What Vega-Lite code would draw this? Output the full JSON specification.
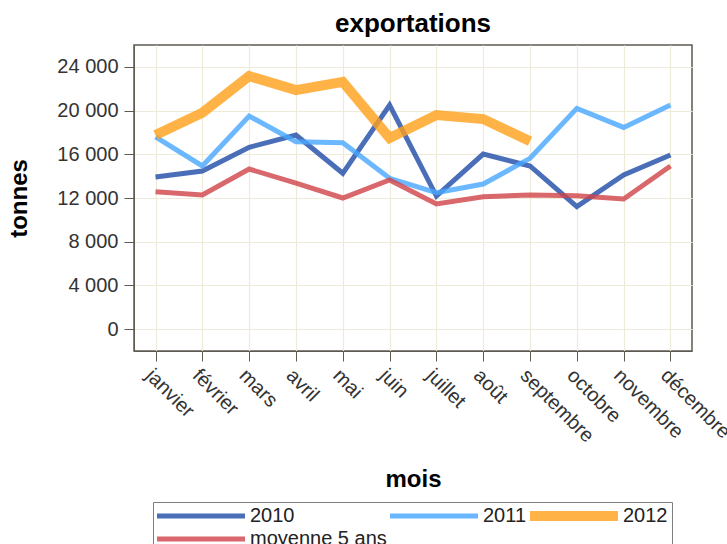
{
  "$schema": "https://vega.github.io/schema/vega-lite/v6.json",
  "width": 558,
  "height": 306,
  "autosize": {"type": "none"},
  "padding": {"left": 134, "top": 45, "right": 35, "bottom": 193},
  "background": "white",
  "title": {"text": "exportations", "fontSize": 26, "font": "Liberation Sans", "fontWeight": "bold", "color": "#000000", "anchor": "middle", "frame": "group", "offset": 8},
  "config": {
    "view": {"stroke": "#5e5a52", "strokeWidth": 1.5},
    "font": "Liberation Sans"
  },
  "data": {"values": [
    {"mois": "janvier", "serie": "2010", "valeur": 13920},
    {"mois": "février", "serie": "2010", "valeur": 14470},
    {"mois": "mars", "serie": "2010", "valeur": 16640},
    {"mois": "avril", "serie": "2010", "valeur": 17760},
    {"mois": "mai", "serie": "2010", "valeur": 14260},
    {"mois": "juin", "serie": "2010", "valeur": 20500},
    {"mois": "juillet", "serie": "2010", "valeur": 12180},
    {"mois": "août", "serie": "2010", "valeur": 16020},
    {"mois": "septembre", "serie": "2010", "valeur": 14930},
    {"mois": "octobre", "serie": "2010", "valeur": 11210},
    {"mois": "novembre", "serie": "2010", "valeur": 14100},
    {"mois": "décembre", "serie": "2010", "valeur": 15930},
    {"mois": "janvier", "serie": "2011", "valeur": 17600},
    {"mois": "février", "serie": "2011", "valeur": 14930},
    {"mois": "mars", "serie": "2011", "valeur": 19500},
    {"mois": "avril", "serie": "2011", "valeur": 17150},
    {"mois": "mai", "serie": "2011", "valeur": 17060},
    {"mois": "juin", "serie": "2011", "valeur": 13800},
    {"mois": "juillet", "serie": "2011", "valeur": 12490},
    {"mois": "août", "serie": "2011", "valeur": 13280},
    {"mois": "septembre", "serie": "2011", "valeur": 15630},
    {"mois": "octobre", "serie": "2011", "valeur": 20200},
    {"mois": "novembre", "serie": "2011", "valeur": 18460},
    {"mois": "décembre", "serie": "2011", "valeur": 20500},
    {"mois": "janvier", "serie": "2012", "valeur": 17760},
    {"mois": "février", "serie": "2012", "valeur": 19800},
    {"mois": "mars", "serie": "2012", "valeur": 23150},
    {"mois": "avril", "serie": "2012", "valeur": 21870},
    {"mois": "mai", "serie": "2012", "valeur": 22630},
    {"mois": "juin", "serie": "2012", "valeur": 17490},
    {"mois": "juillet", "serie": "2012", "valeur": 19590},
    {"mois": "août", "serie": "2012", "valeur": 19220},
    {"mois": "septembre", "serie": "2012", "valeur": 17200},
    {"mois": "janvier", "serie": "moyenne 5 ans", "valeur": 12580},
    {"mois": "février", "serie": "moyenne 5 ans", "valeur": 12280},
    {"mois": "mars", "serie": "moyenne 5 ans", "valeur": 14650},
    {"mois": "avril", "serie": "moyenne 5 ans", "valeur": 13370},
    {"mois": "mai", "serie": "moyenne 5 ans", "valeur": 12000},
    {"mois": "juin", "serie": "moyenne 5 ans", "valeur": 13650},
    {"mois": "juillet", "serie": "moyenne 5 ans", "valeur": 11450},
    {"mois": "août", "serie": "moyenne 5 ans", "valeur": 12120},
    {"mois": "septembre", "serie": "moyenne 5 ans", "valeur": 12280},
    {"mois": "octobre", "serie": "moyenne 5 ans", "valeur": 12210},
    {"mois": "novembre", "serie": "moyenne 5 ans", "valeur": 11910},
    {"mois": "décembre", "serie": "moyenne 5 ans", "valeur": 14930}
  ]},
  "mark": {"type": "line", "opacity": 0.8, "strokeCap": "butt"},
  "encoding": {
    "x": {
      "field": "mois", "type": "ordinal",
      "sort": ["janvier", "février", "mars", "avril", "mai", "juin", "juillet", "août", "septembre", "octobre", "novembre", "décembre"],
      "scale": {"type": "point", "padding": 0.46},
      "axis": {
        "title": "mois", "titleFontSize": 24, "titleFont": "Liberation Sans", "titleFontWeight": "bold", "titleColor": "#000000",
        "titleBaseline": "top", "titleY": 116,
        "labelAngle": 45, "labelAlign": "left", "labelBaseline": "top", "labelFontSize": 20, "labelFont": "Liberation Sans", "labelColor": "#333333", "labelPadding": 4,
        "grid": true, "gridColor": "#eeebd9", "gridWidth": 1.2,
        "tickSize": 10, "tickColor": "#5e5a52", "domainColor": "#5e5a52", "labelOverlap": false, "labelLimit": 300
      }
    },
    "y": {
      "field": "valeur", "type": "quantitative",
      "scale": {"domain": [-2000, 26000], "nice": false, "zero": false},
      "axis": {
        "values": [0, 4000, 8000, 12000, 16000, 20000, 24000],
        "labelExpr": "replace(format(datum.value, ','), ',', ' ')",
        "title": "tonnes", "titleFontSize": 24, "titleFont": "Liberation Sans", "titleFontWeight": "bold", "titleColor": "#000000",
        "titleAngle": -90, "titleBaseline": "alphabetic", "titleX": -108, "titleY": 153, "titleAlign": "center",
        "labelFontSize": 20, "labelFont": "Liberation Sans", "labelColor": "#333333", "labelPadding": 6,
        "grid": true, "gridColor": "#eeebd9", "gridWidth": 1.2,
        "tickSize": 10, "tickColor": "#5e5a52", "domainColor": "#5e5a52"
      }
    },
    "color": {
      "field": "serie", "type": "nominal",
      "scale": {"domain": ["2010", "2011", "2012", "moyenne 5 ans"], "range": ["#1d4aa6", "#46a6ff", "#ffa019", "#d04249"]},
      "legend": {
        "title": null, "orient": "none", "legendX": 19, "legendY": 457, "direction": "horizontal", "columns": 3,
        "symbolType": "M-2,0H15.6", "symbolSize": 100, "symbolOpacity": 0.8, "clipHeight": 20,
        "labelFontSize": 20, "labelFont": "Liberation Sans", "labelColor": "#222222", "labelOffset": 73, "labelLimit": 400,
        "columnPadding": 3, "rowPadding": 3, "padding": 4, "strokeColor": "#7f7f7f"
      }
    },
    "strokeWidth": {
      "field": "serie", "type": "nominal",
      "scale": {"type": "ordinal", "domain": ["2010", "2011", "2012", "moyenne 5 ans"], "range": [5, 5, 10, 5]},
      "legend": {
        "title": null, "orient": "none", "legendX": 19, "legendY": 457, "direction": "horizontal", "columns": 3,
        "symbolType": "M-2,0H15.6", "symbolSize": 100, "symbolOpacity": 0.8, "clipHeight": 20,
        "labelFontSize": 20, "labelFont": "Liberation Sans", "labelColor": "#222222", "labelOffset": 73, "labelLimit": 400,
        "columnPadding": 3, "rowPadding": 3, "padding": 4, "strokeColor": "#7f7f7f"
      }
    }
  }
}
